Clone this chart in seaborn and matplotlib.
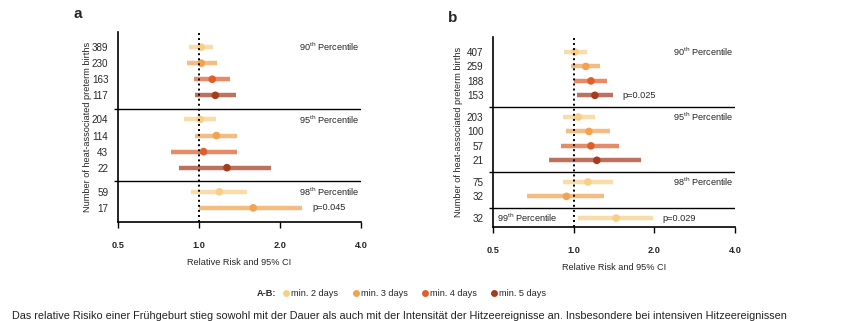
import pandas as pd
import matplotlib
matplotlib.use("Agg")
import matplotlib.pyplot as plt
from matplotlib.lines import Line2D
import seaborn as sns

# ---- data -------------------------------------------------------------
# panel a
a_group = ["90", "90", "90", "90", "95", "95", "95", "95", "98", "98"]
a_count = [389, 230, 163, 117, 204, 114, 43, 22, 59, 17]
a_days = [2, 3, 4, 5, 2, 3, 4, 5, 2, 3]
a_rr = [1.02, 1.02, 1.12, 1.15, 1.01, 1.16, 1.04, 1.27, 1.19, 1.59]
a_lo = [0.92, 0.90, 0.96, 0.97, 0.88, 0.97, 0.79, 0.84, 0.93, 1.00]
a_hi = [1.13, 1.17, 1.30, 1.37, 1.16, 1.38, 1.38, 1.85, 1.51, 2.41]
a_pvals = {9: "p=0.045"}          # row index -> annotation

# panel b
b_group = ["90", "90", "90", "90", "95", "95", "95", "95", "98", "98", "99"]
b_count = [407, 259, 188, 153, 203, 100, 57, 21, 75, 32, 32]
b_days = [2, 3, 4, 5, 2, 3, 4, 5, 2, 3, 2]
b_rr = [1.01, 1.11, 1.16, 1.20, 1.04, 1.14, 1.16, 1.22, 1.13, 0.94, 1.44]
b_lo = [0.92, 0.98, 1.00, 1.03, 0.91, 0.94, 0.90, 0.81, 0.91, 0.67, 1.04]
b_hi = [1.12, 1.25, 1.33, 1.40, 1.20, 1.37, 1.48, 1.79, 1.40, 1.30, 1.98]
b_pvals = {3: "p=0.025", 10: "p=0.029"}

x_ticks = [0.5, 1.0, 2.0, 4.0]
day_labels = {2: "min. 2 days", 3: "min. 3 days", 4: "min. 4 days", 5: "min. 5 days"}

# ---- style ------------------------------------------------------------
sns.set_theme(style="white")
plt.rcParams["font.family"] = ["Liberation Sans", "DejaVu Sans"]
plt.rcParams["mathtext.fontset"] = "custom"
plt.rcParams["mathtext.rm"] = "Liberation Sans"
plt.rcParams["mathtext.it"] = "Liberation Sans"

point_colors = {2: "#F8CF87", 3: "#F2A352", 4: "#DF5E2C", 5: "#A63B1E"}
FS = 6.6


def build_frame(group, count, days, rr, lo, hi):
    """Rows step by 1 inside a percentile group and by 1.5 between groups."""
    df = pd.DataFrame({"group": group, "count": count, "days": days,
                       "rr": rr, "lo": lo, "hi": hi})
    ys, seps, y = [], [], 0.0
    for i, g in enumerate(group):
        if i > 0:
            if g != group[i - 1]:
                seps.append(y + 0.83)
                y += 1.5
            else:
                y += 1.0
        ys.append(y)
    df["y"] = ys
    return df, seps


def draw_panel(ax, df, seps, ylim, pvals, pval_x, left_group_labels=()):
    for _, r in df.iterrows():
        ax.hlines(r["y"], r["lo"], r["hi"], color=point_colors[r["days"]],
                  lw=3.2, alpha=0.72, zorder=2)
    sns.scatterplot(data=df, x="rr", y="y", hue="days", palette=point_colors,
                    s=30, linewidth=0, legend=False, ax=ax, zorder=3)
    ax.set_xscale("log", base=2)
    ax.set_xlim(0.5, 4.0)
    ax.set_ylim(*ylim)
    ax.axvline(1.0, color="black", lw=1.4, ls=(0, (1, 1.6)), zorder=4)
    for s in seps:
        ax.axhline(s, color="black", lw=1.0, zorder=1)

    ax.set_xticks(x_ticks)
    ax.set_xticklabels([f"{v:.1f}" for v in x_ticks], fontweight="bold", fontsize=FS)
    ax.xaxis.set_minor_locator(matplotlib.ticker.NullLocator())
    ax.tick_params(axis="x", which="major", direction="out", length=4, width=1.0,
                   pad=9.5, color="black", bottom=True)
    ax.set_yticks(df["y"])
    ax.set_yticklabels([str(c) for c in df["count"]], fontsize=FS + 0.5)
    ax.tick_params(axis="y", which="major", length=0, pad=7)
    ax.set_yticks(seps, minor=True)
    ax.tick_params(axis="y", which="minor", direction="out", length=3, width=1.0,
                   color="black", left=True)

    for side in ("top", "right"):
        ax.spines[side].set_visible(False)
    for side in ("left", "bottom"):
        ax.spines[side].set_color("black")
        ax.spines[side].set_linewidth(1.2)

    ax.set_xlabel("Relative Risk and 95% CI", fontsize=FS)
    ax.set_ylabel("Number of heat-associated preterm births", fontsize=FS)
    ax.xaxis.set_label_coords(0.5, -0.19)

    # percentile labels at the first row of every group
    tr = ax.get_yaxis_transform()
    for g, sub in df.groupby("group", sort=False):
        y0 = sub["y"].iloc[0]
        txt = rf"{g}$^{{\rm th}}$ Percentile"
        xpos = 0.017 if g in left_group_labels else 0.745
        ax.text(xpos, y0, txt, transform=tr, ha="left", va="center", fontsize=FS)

    # p-values next to their rows
    for row, txt in pvals.items():
        ax.text(pval_x[row], df["y"].iloc[row], txt, transform=tr,
                ha="left", va="center", fontsize=FS)


fig = plt.figure(figsize=(8.45, 3.21), dpi=100)
W, H = 845.0, 321.0

ax_a = fig.add_axes([118 / W, 1 - 222 / H, (361 - 118) / W, 190 / H])
ax_b = fig.add_axes([493 / W, 1 - 227 / H, (735 - 493) / W, 190 / H])

df_a, seps_a = build_frame(a_group, a_count, a_days, a_rr, a_lo, a_hi)
df_b, seps_b = build_frame(b_group, b_count, b_days, b_rr, b_lo, b_hi)

draw_panel(ax_a, df_a, seps_a, (10.88, -0.94), a_pvals, {9: 0.798})
draw_panel(ax_b, df_b, seps_b, (12.12, -1.04), b_pvals, {3: 0.533, 10: 0.70},
           left_group_labels=("99",))

ax_a.yaxis.set_label_coords(-0.107, 0.5)
ax_b.yaxis.set_label_coords(-0.124, 0.5)

# panel letters
fig.text(78 / W, 1 - 14 / H, "a", fontsize=11, fontweight="bold", ha="center", va="center")
fig.text(453 / W, 1 - 18 / H, "b", fontsize=11, fontweight="bold", ha="center", va="center")

# legend
fig.text(257 / W, 1 - 294 / H, "A-B:", fontsize=FS, fontweight="bold", ha="left", va="center")
handles = [Line2D([], [], marker="o", ls="none", markersize=5.0,
                  markerfacecolor=point_colors[d], markeredgewidth=0,
                  label=day_labels[d]) for d in (2, 3, 4, 5)]
fig.legend(handles=handles, loc="center", bbox_to_anchor=(415 / W, 1 - 294 / H),
           ncol=4, frameon=False, fontsize=FS, handlelength=0.6, handletextpad=0.25,
           columnspacing=1.6, borderpad=0)

# caption line running along the lower edge
fig.text(12 / W, 2.0 / H,
         "Das relative Risiko einer Frühgeburt stieg sowohl mit der Dauer als auch mit der "
         "Intensität der Hitzeereignisse an. Insbesondere bei intensiven Hitzeereignissen",
         fontsize=7.8, ha="left", va="baseline", color="#222222")

fig.savefig("out.png", dpi=100)
